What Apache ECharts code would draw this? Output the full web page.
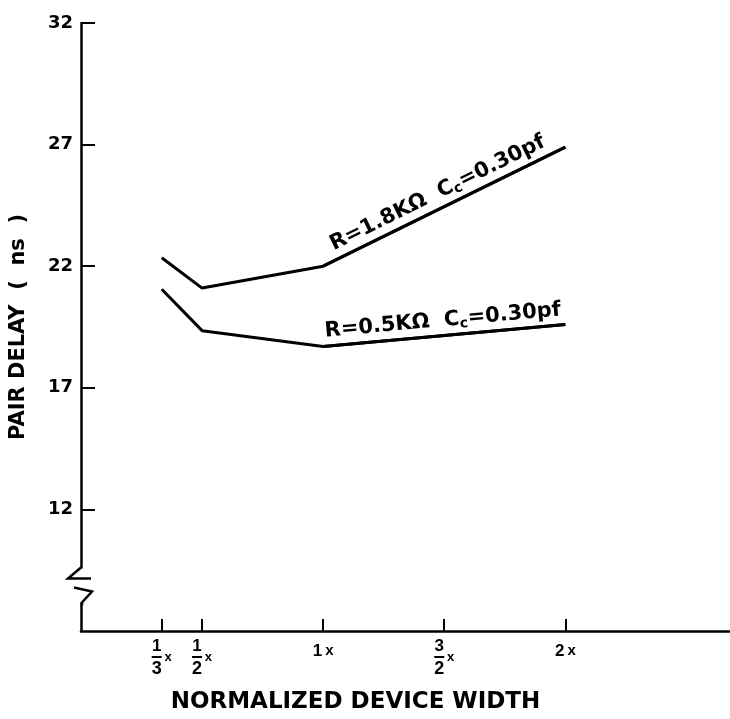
<!DOCTYPE html>
<html><head><meta charset="utf-8">
<script src="https://cdn.jsdelivr.net/npm/echarts@6/dist/echarts.min.js"></script>
<style>html,body{margin:0;padding:0;background:#fff}#c{width:730px;height:719px}</style>
</head><body><div id="c"></div>
<script>
// ---- data ----
const widthValues = [1/3, 1/2, 1, 2];              // normalized device width
const delayHighR  = [22.35, 21.1, 22.0, 26.9];     // R=1.8KΩ Cc=0.30pf (ns)
const delayLowR   = [21.05, 19.35, 18.7, 19.6];    // R=0.5KΩ Cc=0.30pf (ns)
const xTickValues = [1/3, 1/2, 1, 3/2, 2];
const xTickNum    = ['1', '1', '1', '3', '2'];
const xTickDen    = ['3', '2', '',  '2', ''];
const yTickValues = [12, 17, 22, 27, 32];
const labelHigh = ['R=1.8KΩ  C', 'c', '=0.30pf'];
const labelLow  = ['R=0.5KΩ  C', 'c', '=0.30pf'];
const yTitle = 'PAIR DELAY  (  ns  )';
const xTitle = 'NORMALIZED DEVICE WIDTH';

const FONT = '"Liberation Sans", Arial, sans-serif';
const TFONT = '"DejaVu Sans", "Liberation Sans", sans-serif';
const chart = echarts.init(document.getElementById('c'), null, {renderer: 'canvas'});

function pairs(xs, ys) { return xs.map((x, i) => [x, ys[i]]); }
function tickIndex(v) {
  let best = 0;
  xTickValues.forEach((t, i) => { if (Math.abs(t - v) < Math.abs(xTickValues[best] - v)) best = i; });
  return best;
}
const annRich = {
  t: {fontFamily: TFONT, fontWeight: 'bold', fontSize: 21, color: '#000', opacity: 1},
  s: {fontFamily: TFONT, fontWeight: 'bold', fontSize: 14, color: '#000', opacity: 1, verticalAlign: 'bottom', padding: [10, 0, 0, 0]}
};
function annLabel(parts) { return '{t|' + parts[0] + '}{s|' + parts[1] + '}{t|' + parts[2] + '}'; }
function segMarkLine(ys, parts) {
  return {
    silent: true, symbol: 'none', animation: false,
    lineStyle: {color: '#000', width: 3, type: 'solid', opacity: 1},
    label: {show: true, position: 'insideMiddleTop', distance: 3, color: '#000', opacity: 1,
            formatter: annLabel(parts), rich: annRich},
    emphasis: {disabled: true},
    data: [[{coord: [widthValues[2], ys[2]]}, {coord: [widthValues[3], ys[3]]}]]
  };
}

const option = {
  animation: false,
  backgroundColor: '#fff',
  grid: {left: 80, right: 0, top: 23, bottom: 83, containLabel: false},
  xAxis: {
    type: 'value', min: 0, max: 2.68,
    axisLine: {show: true, lineStyle: {color: '#000', width: 2.5}},
    axisTick: {show: true, inside: true, length: 12, lineStyle: {color: '#000', width: 2}, customValues: xTickValues},
    splitLine: {show: false},
    axisLabel: {
      show: true, margin: 8, customValues: xTickValues, color: '#000',
      formatter: function (v) {
        const i = tickIndex(v);
        if (xTickDen[i] === '') return '{s|' + xTickNum[i] + '}{xs|x}';
        return '{n|' + xTickNum[i] + '}{g|}\n{bar| }{x|x}\n{d|' + xTickDen[i] + '}{g|}';
      },
      rich: {
        s: {fontFamily: FONT, fontWeight: 'bold', fontSize: 17, color: '#000', lineHeight: 24},
        n: {fontFamily: FONT, fontWeight: 'bold', fontSize: 17, color: '#000', lineHeight: 14, align: 'center'},
        d: {fontFamily: FONT, fontWeight: 'bold', fontSize: 18, color: '#000', lineHeight: 16, align: 'center'},
        x: {fontFamily: FONT, fontWeight: 'bold', fontSize: 13, color: '#000', width: 10, lineHeight: 8, align: 'right', verticalAlign: 'middle'},
        xs: {fontFamily: FONT, fontWeight: 'bold', fontSize: 15, color: '#000', lineHeight: 24, padding: [0, 0, 0, 3]},
        g: {width: 10},
        bar: {width: 10, height: 2, lineHeight: 8, backgroundColor: '#000', verticalAlign: 'middle'}
      }
    },
    name: xTitle, nameLocation: 'middle', nameGap: 60,
    nameTextStyle: {fontFamily: TFONT, fontWeight: 'bold', fontSize: 23, color: '#000', padding: [0, 100, 0, 0]}
  },
  yAxis: {
    type: 'value', min: 7, max: 32,
    axisLine: {show: true, lineStyle: {color: '#000', width: 2.5}},
    axisTick: {show: true, inside: true, length: 14, lineStyle: {color: '#000', width: 2}, customValues: yTickValues},
    splitLine: {show: false},
    axisLabel: {show: true, margin: 8, customValues: yTickValues, color: '#000', fontFamily: TFONT, fontWeight: 'bold', fontSize: 18},
    name: yTitle, nameLocation: 'middle', nameGap: 52, nameRotate: 90,
    nameTextStyle: {fontFamily: TFONT, fontWeight: 'bold', fontSize: 21, color: '#000'}
  },
  series: [
    {
      name: 'R=1.8KΩ Cc=0.30pf', type: 'line', data: pairs(widthValues, delayHighR),
      showSymbol: false, symbol: 'none', lineStyle: {color: '#000', width: 3},
      markLine: segMarkLine(delayHighR, labelHigh)
    },
    {
      name: 'R=0.5KΩ Cc=0.30pf', type: 'line', data: pairs(widthValues, delayLowR),
      showSymbol: false, symbol: 'none', lineStyle: {color: '#000', width: 3},
      markLine: segMarkLine(delayLowR, labelLow)
    }
  ]
};
chart.setOption(option);

// axis break symbol on the y axis (decoration)
const pTop = chart.convertToPixel({gridIndex: 0}, [0, 9.57]);
const pBot = chart.convertToPixel({gridIndex: 0}, [0, 8.18]);
const x0 = pTop[0], yT = pTop[1], yB = pBot[1];
chart.setOption({
  graphic: [
    {type: 'rect', shape: {x: x0 - 3, y: yT, width: 6, height: yB - yT}, style: {fill: '#fff'}, z: 100},
    {type: 'polyline', z: 101,
     shape: {points: [[x0, yT - 1], [x0 - 13, yT + 10], [x0 + 10, yT + 10]]},
     style: {stroke: '#000', lineWidth: 2.5, fill: null, lineJoin: 'miter'}},
    {type: 'polyline', z: 101,
     shape: {points: [[x0 - 7, yT + 19], [x0 + 11, yT + 23], [x0 + 1, yT + 34], [x0 + 1, yB + 3]]},
     style: {stroke: '#000', lineWidth: 2.5, fill: null, lineJoin: 'miter'}}
  ]
});
</script></body></html>
